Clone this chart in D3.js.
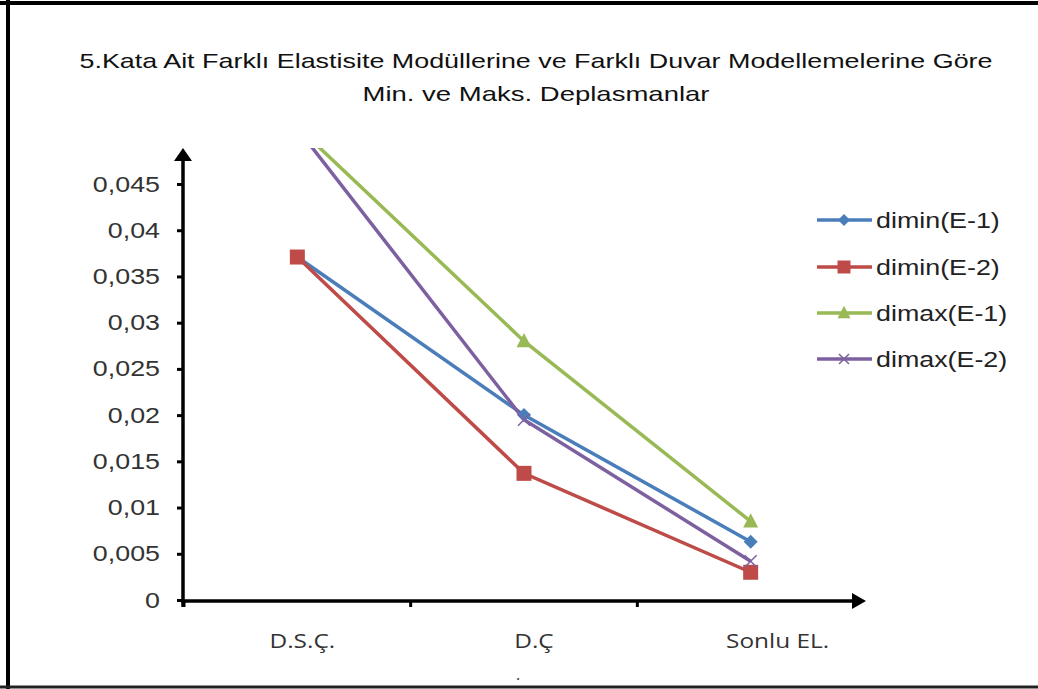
<!DOCTYPE html>
<html><head><meta charset="utf-8">
<script src="https://cdn.jsdelivr.net/npm/d3@7/dist/d3.min.js"></script>
<style>body{margin:0;background:#fff}svg{display:block}</style>
</head><body>
<svg id="c" width="1038" height="689"></svg>
<script>
const titleLines = ["5.Kata Ait Farklı Elastisite Modüllerine ve Farklı Duvar Modellemelerine Göre", "Min. ve Maks. Deplasmanlar"];
const categories = ["D.S.Ç.", "D.Ç", "Sonlu EL."];
const seriesNames = ["dimin(E-1)", "dimin(E-2)", "dimax(E-1)", "dimax(E-2)"];
const diminE1 = [0.0371, 0.0200, 0.0063];
const diminE2 = [0.0371, 0.0137, 0.0030];
const dimaxE1 = [0.0512, 0.0280, 0.0085];
const dimaxE2 = [0.0510, 0.0195, 0.0042];
const yTicks = [0, 0.005, 0.01, 0.015, 0.02, 0.025, 0.03, 0.035, 0.04, 0.045];
const colors = ["#4a7ebb", "#be4b48", "#98b954", "#7d60a0"];
const symbols = ["diamond", "square", "triangle", "cross"];
const seriesValues = [diminE1, diminE2, dimaxE1, dimaxE2];

const svg = d3.select("#c");
function stretch(sel, f){
  sel.each(function(){ const w=this.getComputedTextLength(); d3.select(this).attr("textLength",w*f).attr("lengthAdjust","spacingAndGlyphs"); });
}
// frame
svg.append("line").attr("x1",0).attr("x2",1038).attr("y1",3).attr("y2",3).attr("stroke","#000").attr("stroke-width",4);
svg.append("line").attr("x1",8).attr("x2",8).attr("y1",0).attr("y2",689).attr("stroke","#000").attr("stroke-width",4);
svg.append("line").attr("x1",0).attr("x2",1038).attr("y1",687).attr("y2",687).attr("stroke","#222").attr("stroke-width",3);

// title
const tw = [913, 347];
titleLines.forEach((t,i)=>{
  svg.append("text").attr("x",536).attr("y",68+i*33).attr("text-anchor","middle")
    .attr("font-family","Liberation Sans, Arial, sans-serif").attr("font-size",21).attr("fill","#111")
    .attr("textLength",tw[i]).attr("lengthAdjust","spacingAndGlyphs").text(t);
});

const x = d3.scaleBand().domain(categories).range([184, 864]);
const y = d3.scaleLinear().domain([0, 0.045]).range([600, 184]);
const topY = 148;

svg.append("defs").append("clipPath").attr("id","clip").append("rect")
  .attr("x",184).attr("y",topY).attr("width",700).attr("height",600-topY+20);

// axes
const yAxis = svg.append("g").attr("transform","translate(183,0)")
  .call(d3.axisLeft(y).tickValues(yTicks).tickSize(6).tickFormat(d=> d===0?"0":String(d).replace(".",",")));
yAxis.select(".domain").remove();
yAxis.selectAll(".tick line").attr("stroke","#000").attr("stroke-width",3);
yAxis.selectAll(".tick text").attr("x",-23).attr("font-family","Liberation Sans, Arial, sans-serif").attr("font-size",22).attr("fill","#333");
stretch(yAxis.selectAll(".tick text"), 1.22);

const xAxis = svg.append("g").attr("transform","translate(0,600)")
  .call(d3.axisBottom(x).tickSize(0).tickFormat(""));
xAxis.select(".domain").remove();
// band edge ticks
const edges = [x.range()[0]].concat(categories.map(c=>x(c)+x.bandwidth())).slice(0,3);
svg.selectAll(".etick").data(edges).join("line").attr("class","etick")
  .attr("x1",d=>d).attr("x2",d=>d).attr("y1",600).attr("y2",607).attr("stroke","#000").attr("stroke-width",3);

// axis lines with arrows
svg.append("line").attr("x1",183).attr("x2",183).attr("y1",607).attr("y2",topY+8).attr("stroke","#000").attr("stroke-width",3.5);
svg.append("path").attr("d",`M183,${topY} L174,${topY+13} L192,${topY+13} Z`).attr("fill","#000");
svg.append("line").attr("x1",181).attr("x2",856).attr("y1",601).attr("y2",601).attr("stroke","#000").attr("stroke-width",3.5);
svg.append("path").attr("d",`M866,601 L852,593 L852,609 Z`).attr("fill","#000");

// category labels
const cats = svg.selectAll(".cat").data(categories).join("text").attr("class","cat")
  .attr("x",(d,i)=>x(d)+x.bandwidth()/2+[5,10,27][i]).attr("y",648).attr("text-anchor","middle")
  .attr("font-family","Open Sans, DejaVu Sans, sans-serif").attr("font-size",20).attr("fill","#333").text(d=>d);
stretch(cats, 1.22);
svg.append("text").attr("x",x("D.Ç")+x.bandwidth()/2-8).attr("y",680).attr("font-family","Open Sans, sans-serif").attr("font-size",16).attr("fill","#333").text(".");

function sym(type, size){
  const s = size;
  if(type==="diamond") return `M0,${-s} L${s},0 L0,${s} L${-s},0 Z`;
  if(type==="square") return `M${-s},${-s} H${s} V${s} H${-s} Z`;
  if(type==="triangle") return `M0,${-s*1.1} L${s},${s*0.8} L${-s},${s*0.8} Z`;
  return `M${-s},${-s} L${s},${s} M${s},${-s} L${-s},${s}`;
}
const sizes = [7,7.5,7.5,6];

const plot = svg.append("g").attr("clip-path","url(#clip)");
const line = d3.line().x((d,i)=>x(categories[i])+x.bandwidth()/2).y(d=>y(d));
seriesValues.forEach((vals,si)=>{
  plot.append("path").datum(vals).attr("d",line).attr("fill","none").attr("stroke",colors[si]).attr("stroke-width",3.5);
});
seriesValues.forEach((vals,si)=>{
  plot.selectAll(".m"+si).data(vals).join("path").attr("class","m"+si)
    .attr("transform",(d,i)=>`translate(${x(categories[i])+x.bandwidth()/2},${y(d)})`)
    .attr("d",sym(symbols[si],sizes[si]))
    .attr("fill",symbols[si]==="cross"?"none":colors[si])
    .attr("stroke",colors[si]).attr("stroke-width",symbols[si]==="cross"?1.5:0);
});

// legend
const ly = [220, 267, 313, 359];
seriesNames.forEach((n,i)=>{
  const g = svg.append("g").attr("transform",`translate(0,${ly[i]})`);
  g.append("line").attr("x1",817).attr("x2",872).attr("y1",0).attr("y2",0).attr("stroke",colors[i]).attr("stroke-width",3.5);
  g.append("path").attr("transform","translate(844,0)").attr("d",sym(symbols[i],sizes[i]-1))
    .attr("fill",symbols[i]==="cross"?"none":colors[i]).attr("stroke",colors[i]).attr("stroke-width",symbols[i]==="cross"?1.5:0);
  const t = g.append("text").attr("x",876).attr("y",8).attr("font-family","Liberation Sans, Arial, sans-serif")
    .attr("font-size",22).attr("fill","#222").text(n);
  stretch(t, 1.22);
});
</script>
</body></html>
